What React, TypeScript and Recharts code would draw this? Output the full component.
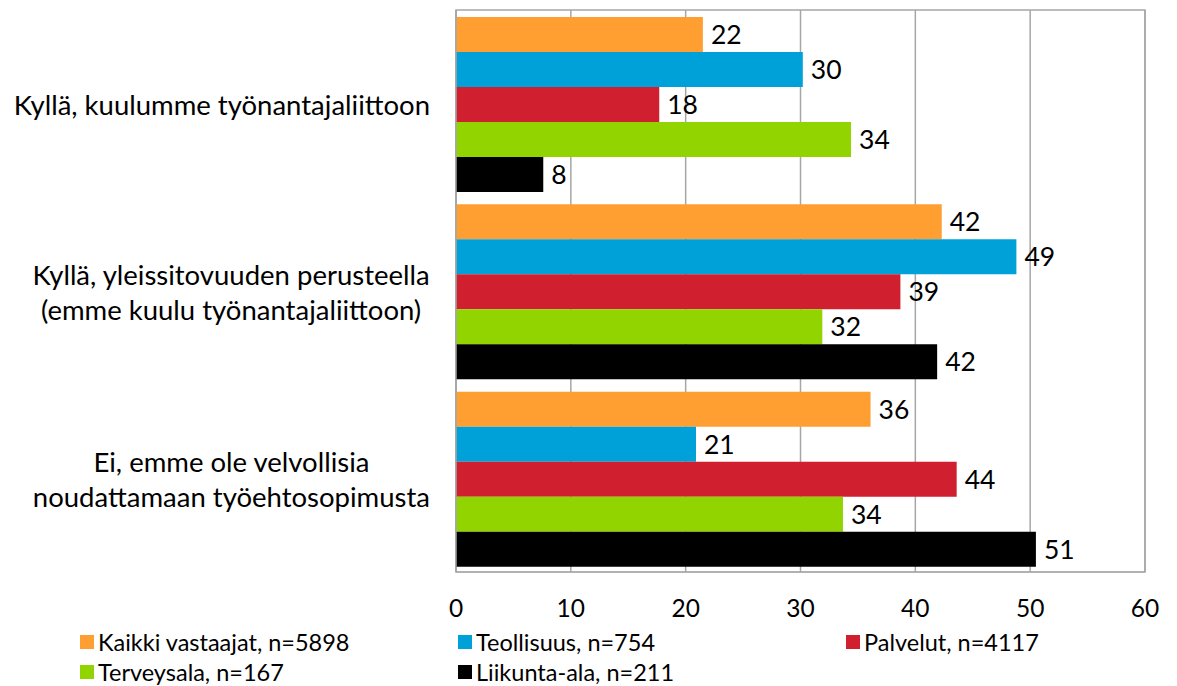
import { Bar, BarChart, CartesianGrid, LabelList, Legend, ReferenceArea, XAxis, YAxis } from "recharts"

const categories = [
  "Kyllä, kuulumme työnantajaliittoon",
  "Kyllä, yleissitovuuden perusteella\n(emme kuulu työnantajaliittoon)",
  "Ei, emme ole velvollisia\nnoudattamaan työehtosopimusta",
]

const kaikki = [21.5, 42.3, 36.1]
const teollisuus = [30.2, 48.8, 20.9]
const palvelut = [17.7, 38.7, 43.6]
const terveysala = [34.4, 31.9, 33.7]
const liikunta = [7.6, 41.9, 50.5]

const xTicks = [0, 10, 20, 30, 40, 50, 60]

const series = [
  { key: "kaikki", name: "Kaikki vastaajat, n=5898", color: "#FF9F32" },
  { key: "teollisuus", name: "Teollisuus, n=754", color: "#00A0D8" },
  { key: "palvelut", name: "Palvelut, n=4117", color: "#D0202F" },
  { key: "terveysala", name: "Terveysala, n=167", color: "#92D400" },
  { key: "liikunta", name: "Liikunta-ala, n=211", color: "#000000" },
]

const data = categories.map((name, i) => ({
  name,
  kaikki: kaikki[i],
  teollisuus: teollisuus[i],
  palvelut: palvelut[i],
  terveysala: terveysala[i],
  liikunta: liikunta[i],
}))

const FONT = "Lato, 'Noto Sans', sans-serif"

let ctx: CanvasRenderingContext2D | null = null
function textWidth(s: string, size: number) {
  if (!ctx) ctx = document.createElement("canvas").getContext("2d")
  if (!ctx) return s.length * size * 0.5
  ctx.font = `${size}px Lato`
  return ctx.measureText(s).width
}

function CategoryTick(props: any) {
  const { x, y, payload } = props
  const lines = String(payload.value).split("\n")
  const size = 27.5
  const widest = Math.max(...lines.map((l) => textWidth(l, size)))
  const cx = x - 18 - widest / 2
  const lh = 35
  const y0 = y - ((lines.length - 1) * lh) / 2
  return (
    <text x={cx} y={y0} textAnchor="middle" dominantBaseline="central" fontSize={size} fontFamily={FONT} fill="#000">
      {lines.map((l, i) => (
        <tspan key={i} x={cx} y={y0 + i * lh} dominantBaseline="central">
          {l}
        </tspan>
      ))}
    </text>
  )
}

function LegendBox() {
  const rows = [series.slice(0, 3), series.slice(3)]
  const cols = [80, 458, 846]
  return (
    <div style={{ position: "relative", width: 1177, height: 62, fontFamily: FONT, fontSize: 23.5, lineHeight: "30px" }}>
      {rows.map((row, r) =>
        row.map((s, c) => (
          <div
            key={s.key}
            style={{ position: "absolute", left: cols[c], top: 3 + r * 30, height: 30, display: "flex", alignItems: "center", whiteSpace: "nowrap" }}
          >
            <span style={{ width: 14, height: 14, background: s.color, display: "inline-block", marginRight: 4 }} />
            <span>{s.name}</span>
          </div>
        ))
      )}
    </div>
  )
}

export default function App() {
  return (
    <div style={{ position: "absolute", left: 0, top: 0, background: "#fff" }}>
      <BarChart
        width={1177}
        height={686}
        data={data}
        layout="vertical"
        margin={{ top: 10, right: 32, bottom: 0, left: 0 }}
        barCategoryGap={7}
        barGap={0}
      >
        <CartesianGrid horizontal={false} stroke="#A6A6A6" strokeWidth={1.5} />
        <ReferenceArea x1={0} x2={60} fill="none" stroke="#A6A6A6" strokeWidth={1.5} />
        <XAxis
          type="number"
          domain={[0, 60]}
          ticks={xTicks}
          tickLine={false}
          axisLine={{ stroke: "#A6A6A6" }}
          tick={{ fontSize: 24.5, fontFamily: FONT, fill: "#000" }}
          tickMargin={22}
          height={52}
          interval={0}
        />
        <YAxis
          type="category"
          dataKey="name"
          width={456}
          tickLine={false}
          axisLine={{ stroke: "#A6A6A6", strokeWidth: 1.5 }}
          tick={<CategoryTick />}
          interval={0}
        />
        <Legend verticalAlign="bottom" wrapperStyle={{ height: 62 }} content={() => <LegendBox />} />
        {series.map((s) => (
          <Bar key={s.key} dataKey={s.key} name={s.name} fill={s.color} isAnimationActive={false}>
            <LabelList
              dataKey={s.key}
              position="right"
              offset={8}
              formatter={(v: any) => Math.round(Number(v))}
              style={{ fontSize: 26.5, fontFamily: FONT, fill: "#000" }}
            />
          </Bar>
        ))}
      </BarChart>
    </div>
  )
}
